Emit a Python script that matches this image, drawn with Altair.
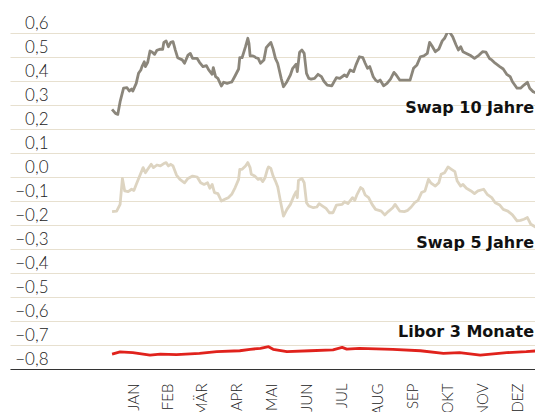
import altair as alt
import pandas as pd

# ---- data (day offsets from 1 Jan, values in %) ----
s10_days = [-3, 0, 2, 4, 7, 10, 12, 14, 15, 18, 20, 22, 23, 25, 26, 28, 30, 32, 34, 36, 39, 41, 42, 44, 46, 48, 50, 52, 54, 58, 60, 63, 65, 67, 71, 73, 76, 79, 81, 84, 85, 87, 89, 92, 94, 97, 100, 101, 104, 107, 108, 110, 113, 115, 116, 117, 119, 121, 122, 124, 126, 129, 131, 133, 135, 137, 139, 141, 144, 146, 149, 152, 154, 157, 158, 160, 162, 164, 166, 168, 170, 173, 176, 179, 181, 184, 188, 192, 195, 199, 201, 204, 207, 209, 212, 215, 217, 219, 221, 224, 226, 228, 230, 233, 236, 239, 242, 244, 247, 251, 256, 259, 262, 265, 268, 271, 273, 275, 278, 281, 284, 286, 289, 291, 293, 296, 298, 300, 302, 305, 309, 312, 316, 319, 322, 325, 327, 330, 334, 337, 340, 343, 345, 349, 352, 355, 358, 360, 363, 366, 369, 371]
s10_vals = [0.282, 0.265, 0.261, 0.314, 0.370, 0.372, 0.358, 0.367, 0.358, 0.390, 0.432, 0.446, 0.460, 0.480, 0.460, 0.478, 0.525, 0.520, 0.511, 0.528, 0.533, 0.532, 0.561, 0.567, 0.543, 0.561, 0.564, 0.529, 0.497, 0.488, 0.474, 0.508, 0.515, 0.494, 0.494, 0.478, 0.460, 0.464, 0.446, 0.428, 0.456, 0.418, 0.411, 0.379, 0.395, 0.390, 0.395, 0.395, 0.422, 0.450, 0.497, 0.497, 0.543, 0.578, 0.557, 0.505, 0.505, 0.501, 0.497, 0.494, 0.474, 0.488, 0.539, 0.550, 0.561, 0.533, 0.494, 0.474, 0.411, 0.376, 0.397, 0.425, 0.453, 0.470, 0.439, 0.520, 0.529, 0.515, 0.432, 0.411, 0.408, 0.411, 0.428, 0.418, 0.400, 0.383, 0.380, 0.414, 0.411, 0.425, 0.418, 0.446, 0.439, 0.467, 0.501, 0.497, 0.474, 0.453, 0.460, 0.418, 0.404, 0.397, 0.404, 0.380, 0.390, 0.408, 0.436, 0.425, 0.404, 0.404, 0.404, 0.453, 0.467, 0.501, 0.505, 0.515, 0.561, 0.547, 0.522, 0.533, 0.567, 0.578, 0.608, 0.599, 0.585, 0.550, 0.529, 0.543, 0.522, 0.515, 0.505, 0.494, 0.508, 0.522, 0.520, 0.494, 0.488, 0.474, 0.460, 0.450, 0.428, 0.418, 0.397, 0.370, 0.370, 0.383, 0.395, 0.370, 0.355, 0.349, 0.355, 0.353]

s5_days = [-3, 1, 4, 6, 8, 11, 14, 16, 18, 21, 24, 26, 28, 31, 33, 36, 39, 42, 44, 46, 48, 50, 53, 56, 60, 63, 67, 71, 74, 77, 80, 82, 84, 86, 89, 92, 95, 98, 101, 104, 107, 108, 110, 113, 115, 117, 118, 121, 124, 126, 128, 130, 132, 133, 135, 137, 139, 141, 143, 146, 149, 152, 155, 157, 158, 159, 162, 164, 166, 168, 172, 175, 177, 180, 183, 186, 189, 192, 197, 199, 202, 206, 208, 210, 213, 215, 217, 220, 223, 226, 229, 231, 234, 237, 241, 243, 247, 251, 254, 257, 260, 263, 266, 269, 272, 274, 278, 281, 283, 286, 289, 292, 295, 297, 300, 302, 305, 309, 312, 315, 320, 323, 327, 330, 334, 337, 341, 345, 349, 352, 355, 358, 361, 365, 368, 371]
s5_vals = [-0.144, -0.142, -0.114, -0.006, -0.058, -0.061, -0.051, -0.056, -0.031, 0.004, 0.039, 0.018, 0.032, 0.053, 0.039, 0.050, 0.046, 0.056, 0.060, 0.046, 0.053, 0.046, 0.008, -0.010, -0.024, -0.006, 0.004, 0.000, -0.024, -0.031, -0.024, -0.047, -0.031, -0.065, -0.069, -0.100, -0.093, -0.086, -0.072, -0.044, -0.010, 0.032, 0.032, 0.046, 0.060, 0.039, 0.011, 0.004, -0.010, -0.006, -0.019, -0.003, 0.032, 0.042, 0.036, 0.004, -0.017, -0.042, -0.093, -0.163, -0.135, -0.114, -0.079, -0.061, -0.086, -0.014, -0.006, -0.024, -0.107, -0.121, -0.128, -0.125, -0.111, -0.121, -0.131, -0.149, -0.149, -0.117, -0.114, -0.103, -0.111, -0.086, -0.097, -0.072, -0.044, -0.051, -0.075, -0.086, -0.114, -0.135, -0.139, -0.142, -0.158, -0.144, -0.128, -0.114, -0.142, -0.144, -0.139, -0.125, -0.107, -0.097, -0.065, -0.058, -0.010, -0.024, -0.038, -0.024, 0.011, 0.018, 0.042, 0.032, 0.022, -0.017, -0.038, -0.031, -0.047, -0.058, -0.069, -0.058, -0.051, -0.072, -0.086, -0.107, -0.117, -0.135, -0.142, -0.158, -0.183, -0.181, -0.176, -0.169, -0.197, -0.208, -0.211, -0.204]

libor_days = [-3, 4, 15, 30, 39, 53, 73, 88, 108, 117, 126, 133, 137, 149, 169, 189, 197, 201, 212, 241, 265, 285, 299, 317, 340, 357, 367, 371]
libor_vals = [-0.738, -0.729, -0.732, -0.742, -0.738, -0.740, -0.735, -0.728, -0.724, -0.718, -0.714, -0.707, -0.718, -0.728, -0.724, -0.720, -0.710, -0.717, -0.714, -0.718, -0.724, -0.735, -0.732, -0.742, -0.732, -0.728, -0.724, -0.714]

series_names = ["Swap 10 Jahre", "Swap 5 Jahre", "Libor 3 Monate"]
series_colors = ["#8b867b", "#ddd4c1", "#e0221c"]
label_vals = [0.267, -0.296, -0.667]

month_names = ["JAN", "FEB", "MÄR", "APR", "MAI", "JUN", "JUL", "AUG", "SEP", "OKT", "NOV", "DEZ"]
month_mid_days = [15.5, 45, 74.5, 105, 135.5, 166, 196.5, 227.5, 258, 288.5, 319, 349.5]
y_ticks = [-0.8, -0.7, -0.6, -0.5, -0.4, -0.3, -0.2, -0.1, 0.0, 0.1, 0.2, 0.3, 0.4, 0.5, 0.6]

x_domain = [-91.7, 364.6]
y_domain = [-0.8, 0.6]

rows = []
for name, days, vals in zip(series_names, [s10_days, s5_days, libor_days], [s10_vals, s5_vals, libor_vals]):
    for d, v in zip(days, vals):
        rows.append({"serie": name, "tag": d, "wert": v})
df = pd.DataFrame(rows)

lab_df = pd.DataFrame({"serie": series_names, "tag": [x_domain[1]] * 3, "wert": label_vals})

label_font = "Lato"
month_expr = "{}[indexof({}, datum.value)]".format(
    "[" + ",".join("'%s'" % m for m in month_names) + "]",
    "[" + ",".join(str(v) for v in month_mid_days) + "]",
)

x_enc = alt.X(
    "tag:Q",
    scale=alt.Scale(domain=x_domain, nice=False, zero=False),
    axis=alt.Axis(
        values=month_mid_days, labelExpr=month_expr, title=None, grid=False,
        ticks=False, tickSize=0, domain=True, domainColor="#333333", domainWidth=1.2,
        labelAngle=270, labelAlign="right", labelBaseline="middle", labelPadding=14,
        labelOverlap=False,
        labelFont=label_font, labelFontSize=15, labelFontWeight=300, labelColor="#222222",
    ),
)
y_enc = alt.Y(
    "wert:Q",
    scale=alt.Scale(domain=y_domain, nice=False, zero=False),
    axis=alt.Axis(
        values=y_ticks, labelExpr="replace(format(datum.value, '.1f'), '.', ',')",
        title=None, grid=True, gridColor="#e7e0cf", gridWidth=1.2,
        ticks=False, tickSize=0, domain=False, labelOverlap=False,
        labelAlign="right", labelBaseline="alphabetic", labelPadding=-38, labelOffset=-5,
        labelFont=label_font, labelFontSize=17, labelFontWeight=300, labelColor="#222222",
    ),
)

lines = alt.Chart(df).mark_line(strokeWidth=2.8, clip=True, strokeJoin="round").encode(
    x=x_enc,
    y=y_enc,
    color=alt.Color("serie:N", scale=alt.Scale(domain=series_names, range=series_colors), legend=None),
    detail="serie:N",
)

labels = alt.Chart(lab_df).mark_text(
    align="right", baseline="alphabetic", dx=-1, font="DejaVu Sans",
    fontSize=16, fontWeight="bold", color="#111111",
).encode(
    x=x_enc,
    y=y_enc,
    text="serie:N",
)

chart = alt.layer(lines, labels).properties(
    width=525, height=336,
    autosize="none",
    padding={"left": 2, "top": 25, "right": 0, "bottom": 43},
).configure_view(stroke=None)

chart.save("out.html", embed_options={"renderer": "svg", "actions": False})
